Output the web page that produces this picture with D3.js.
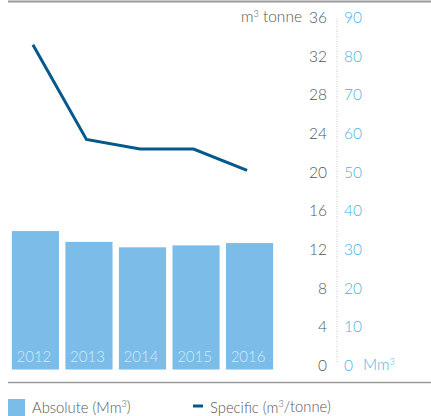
<!DOCTYPE html>
<html>
<head>
<meta charset="utf-8">
<script src="https://cdn.jsdelivr.net/npm/d3@7"></script>
<style>
    body { margin: 0; background: #fff; }
    svg text { font-family: Lato, "Open Sans", sans-serif; font-weight: 300; }
</style>
</head>
<body>
<div id="chart"></div>
<script>
// data
let years = ["2012", "2013", "2014", "2015", "2016"];
let absoluteMm3 = [35.8, 33.0, 31.6, 32.1, 32.7];
let specificM3PerTonne = [33.6, 23.8, 22.8, 22.8, 20.6];
let leftTicks = [0, 4, 8, 12, 16, 20, 24, 28, 32, 36];
let rightTicks = [0, 10, 20, 30, 40, 50, 60, 70, 80, 90];

let width = 431, height = 416;
let barColor = "#7bbde8";
let lineColor = "#03598c";
let rightColor = "#4ab3e6";
let textColor = "#555";

let svg = d3.select("#chart").append("svg")
    .attr("width", width)
    .attr("height", height);

// frame lines
svg.append("line")
    .attr("x1", 8).attr("x2", width)
    .attr("y1", 1.5).attr("y2", 1.5)
    .attr("stroke", "#9a9a9a").attr("stroke-width", 2);

svg.append("line")
    .attr("x1", 8).attr("x2", width)
    .attr("y1", 382.5).attr("y2", 382.5)
    .attr("stroke", "#9a9a9a").attr("stroke-width", 1.5);

// scales
let xScale = d3.scaleBand()
    .domain(years)
    .range([6.5, 278.5])
    .paddingInner(0.12)
    .paddingOuter(0.1);

let yLeft = d3.scaleLinear().domain([0, 36]).range([369.5, 21.5]);
let yRight = d3.scaleLinear().domain([0, 90]).range([369.5, 21.5]);

// bars
svg.append("g")
    .selectAll("rect")
    .data(years)
    .enter()
    .append("rect")
    .attr("x", d => xScale(d))
    .attr("width", xScale.bandwidth())
    .attr("y", (d, i) => yRight(absoluteMm3[i]))
    .attr("height", (d, i) => yRight(0) - yRight(absoluteMm3[i]))
    .attr("fill", barColor);

// year labels inside bars
svg.append("g")
    .selectAll("text")
    .data(years)
    .enter()
    .append("text")
    .attr("x", d => xScale(d) + xScale.bandwidth() / 2 - 1.5)
    .attr("y", 362)
    .attr("text-anchor", "middle")
    .attr("font-size", 15)
    .attr("fill", "#d4eafa")
    .text(d => d);

// specific line
let line = d3.line()
    .x((d, i) => xScale(years[i]) + xScale.bandwidth() / 2 - 2.5)
    .y(d => yLeft(d));

svg.append("path")
    .datum(specificM3PerTonne)
    .attr("d", line)
    .attr("fill", "none")
    .attr("stroke", lineColor)
    .attr("stroke-width", 3);

// left axis (m3 tonne)
let leftAxis = d3.axisLeft(yLeft).tickValues(leftTicks).tickSize(0).tickPadding(0);
let gLeft = svg.append("g")
    .attr("transform", "translate(327, -4)")
    .call(leftAxis);
gLeft.select(".domain").remove();
gLeft.selectAll("text")
    .attr("font-size", 15.5)
    .attr("fill", textColor);

// right axis (Mm3)
let rightAxis = d3.axisRight(yRight).tickValues(rightTicks).tickSize(0).tickPadding(0);
let gRight = svg.append("g")
    .attr("transform", "translate(344, -4)")
    .call(rightAxis);
gRight.select(".domain").remove();
gRight.selectAll("text")
    .attr("font-size", 15.5)
    .attr("fill", rightColor);

// dotted divider between the axes
svg.append("line")
    .attr("x1", 337).attr("x2", 337)
    .attr("y1", yLeft(36) - 3).attr("y2", yLeft(0) - 7)
    .attr("stroke", "#c8c8c8")
    .attr("stroke-width", 1)
    .attr("stroke-dasharray", "1,1.5");

// unit labels
let leftUnit = svg.append("text")
    .attr("x", 302)
    .attr("y", yLeft(36) - 4)
    .attr("dy", "0.32em")
    .attr("text-anchor", "end")
    .attr("font-size", 15.5)
    .attr("fill", textColor);
leftUnit.append("tspan").text("m");
leftUnit.append("tspan").attr("font-size", 9).attr("dy", "-0.6em").text("3");
leftUnit.append("tspan").attr("dy", "0.35em").text(" tonne");

let rightUnit = svg.append("text")
    .attr("x", 363)
    .attr("y", yRight(0) - 4)
    .attr("dy", "0.32em")
    .attr("font-size", 15.5)
    .attr("fill", rightColor);
rightUnit.append("tspan").text("Mm");
rightUnit.append("tspan").attr("font-size", 9).attr("dy", "-0.6em").text("3");

// legend
let legend = svg.append("g").attr("class", "legend");

legend.append("rect")
    .attr("x", 8).attr("y", 399)
    .attr("width", 17).attr("height", 17)
    .attr("fill", barColor);

let absText = legend.append("text")
    .attr("x", 32).attr("y", 412.5)
    .attr("font-size", 14.8)
    .attr("fill", textColor);
absText.append("tspan").text("Absolute (Mm");
absText.append("tspan").attr("font-size", 9).attr("dy", "-0.6em").text("3");
absText.append("tspan").attr("dy", "0.35em").text(")");

legend.append("line")
    .attr("x1", 193).attr("x2", 203)
    .attr("y1", 406).attr("y2", 406)
    .attr("stroke", lineColor)
    .attr("stroke-width", 3);

let specText = legend.append("text")
    .attr("x", 210).attr("y", 412.5)
    .attr("font-size", 14.8)
    .attr("fill", textColor);
specText.append("tspan").text("Specific (m");
specText.append("tspan").attr("font-size", 9).attr("dy", "-0.6em").text("3");
specText.append("tspan").attr("dy", "0.35em").text("/tonne)");
</script>
</body>
</html>
